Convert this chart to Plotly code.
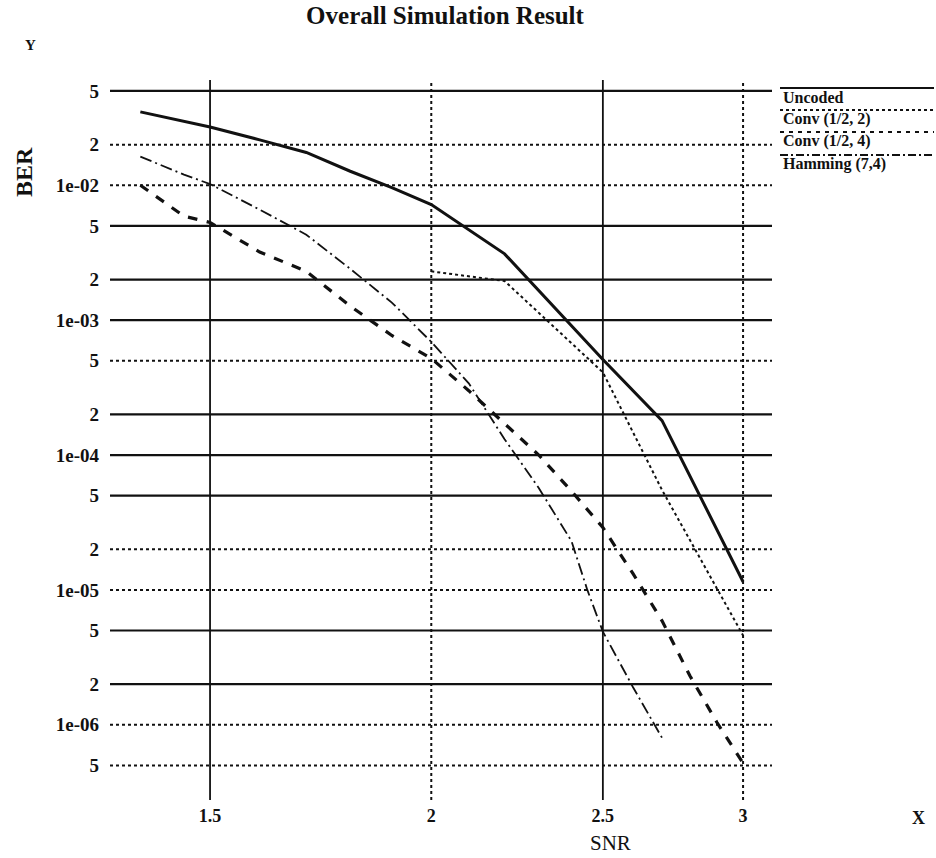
import math
import plotly.graph_objects as go

# ---------------- data ----------------
uncoded_x = [1.37, 1.5, 1.6, 1.7, 1.8, 1.9, 2.0, 2.2, 2.5, 2.7, 3.0]
uncoded_y = [3.5e-2, 2.7e-2, 2.17e-2, 1.75e-2, 1.27e-2, 9.6e-3, 7.2e-3, 3.1e-3, 5.1e-4, 1.8e-4, 1.15e-5]

conv2_x = [2.0, 2.2, 2.5, 2.7, 3.0]
conv2_y = [2.3e-3, 1.95e-3, 4.1e-4, 5.5e-5, 4.6e-6]

conv4_x = [1.37, 1.45, 1.5, 1.6, 1.7, 1.8, 1.9, 2.0, 2.1, 2.2, 2.3, 2.4, 2.5, 2.6, 2.7, 2.8, 2.9, 3.0]
conv4_y = [1.0e-2, 5.9e-3, 5.3e-3, 3.2e-3, 2.3e-3, 1.27e-3, 7.7e-4, 5.2e-4, 3.0e-4, 1.72e-4,
           1.0e-4, 5.4e-5, 2.9e-5, 1.32e-5, 5.9e-6, 2.3e-6, 1.04e-6, 5.2e-7]

hamming_x = [1.37, 1.45, 1.5, 1.6, 1.7, 1.8, 1.9, 2.0, 2.1, 2.2, 2.3, 2.4, 2.45, 2.5, 2.6, 2.7]
hamming_y = [1.63e-2, 1.2e-2, 1.02e-2, 6.6e-3, 4.3e-3, 2.4e-3, 1.35e-3, 6.9e-4, 3.4e-4, 1.31e-4,
             5.7e-5, 2.3e-5, 1.0e-5, 4.9e-6, 1.9e-6, 8.0e-7]

series_names = ["Uncoded", "Conv (1/2, 2)", "Conv (1/2, 4)", "Hamming (7,4)"]

x_tickvals = [1.5, 2.0, 2.5, 3.0]
x_ticktext = ["1.5", "2", "2.5", "3"]
x_grid_solid = [True, False, True, False]

y_tickvals = [5e-2, 2e-2, 1e-2, 5e-3, 2e-3, 1e-3, 5e-4, 2e-4, 1e-4, 5e-5, 2e-5, 1e-5, 5e-6, 2e-6, 1e-6, 5e-7]
y_ticktext = ["5", "2", "1e-02", "5", "2", "1e-03", "5", "2", "1e-04", "5", "2", "1e-05", "5", "2", "1e-06", "5"]
y_grid_solid = [True, False, False, True, True, True, False, True, True, True, False, False, True, True, False, False]

X_RANGE = [1.317, 3.115]
Y_RANGE = [2.77e-7, 6.03e-2]

# ---------------- figure ----------------
FONT = "Liberation Serif, Times New Roman, DejaVu Serif, serif"
INK = "#111111"

W, H = 936, 858
ML, MR, MT, MB = 110, 164, 80, 58
PW, PH = W - ML - MR, H - MT - MB


def px(xp):
    return (xp - ML) / PW


def py(yp):
    return (H - MB - yp) / PH


fig = go.Figure()

# grid lines (drawn as traces so they sit in data coordinates)
for v, solid in zip(y_tickvals, y_grid_solid):
    fig.add_trace(go.Scatter(x=X_RANGE, y=[v, v], mode="lines", hoverinfo="skip", showlegend=False,
                             line=dict(color=INK, width=2.2 if solid else 2, dash="solid" if solid else "dot")))
for v, solid in zip(x_tickvals, x_grid_solid):
    fig.add_trace(go.Scatter(x=[v, v], y=Y_RANGE, mode="lines", hoverinfo="skip", showlegend=False,
                             line=dict(color=INK, width=1.8 if solid else 2, dash="solid" if solid else "dot")))

styles = [
    dict(width=3, dash="solid"),
    dict(width=2, dash="dot"),
    dict(width=3.2, dash="dash"),
    dict(width=1.8, dash="12px,4px,2px,4px"),
]
data = [(uncoded_x, uncoded_y), (conv2_x, conv2_y), (conv4_x, conv4_y), (hamming_x, hamming_y)]
for (xs, ys), name, st in zip(data, series_names, styles):
    fig.add_trace(go.Scatter(x=xs, y=ys, mode="lines", name=name, showlegend=False,
                             line=dict(color=INK, **st)))

# custom xgraph-style legend: line above each label
legend_line_y = [88, 110, 132, 155]
legend_text_y = [97, 119, 141, 164]
legend_dash = ["solid", "dot", "4px,5px", "8px,3px,2px,3px"]
shapes = []
annotations = []
for name, st, dsh, ly, ty in zip(series_names, styles, legend_dash, legend_line_y, legend_text_y):
    shapes.append(dict(type="line", xref="paper", yref="paper", x0=px(780), x1=px(934), y0=py(ly), y1=py(ly),
                       line=dict(color=INK, width=2.2, dash=dsh)))
    annotations.append(dict(text="<b>%s</b>" % name, xref="paper", yref="paper", x=px(781), y=py(ty),
                            xanchor="left", yanchor="middle", showarrow=False,
                            font=dict(family=FONT, size=16, color=INK)))

annotations += [
    dict(text="<b>BER</b>", xref="paper", yref="paper", x=px(24), y=py(172), textangle=-90, showarrow=False,
         xanchor="center", yanchor="middle", font=dict(family=FONT, size=24, color=INK)),
    dict(text="<b>Y</b>", xref="paper", yref="paper", x=px(30), y=py(45), showarrow=False,
         xanchor="center", yanchor="middle", font=dict(family=FONT, size=15, color=INK)),
    dict(text="SNR", xref="paper", yref="paper", x=px(610), y=py(843), showarrow=False,
         xanchor="center", yanchor="middle", font=dict(family=FONT, size=21, color=INK)),
    dict(text="<b>X</b>", xref="paper", yref="paper", x=px(918), y=py(818), showarrow=False,
         xanchor="center", yanchor="middle", font=dict(family=FONT, size=18, color=INK)),
]

fig.update_layout(
    width=W, height=H,
    margin=dict(l=ML, r=MR, t=MT, b=MB),
    paper_bgcolor="white", plot_bgcolor="white",
    title=dict(text="<b>Overall Simulation Result</b>", x=445 / W, y=1 - 15 / H, xanchor="center",
               yanchor="middle", font=dict(family=FONT, size=25, color=INK)),
    shapes=shapes,
    annotations=annotations,
    showlegend=False,
)
fig.update_xaxes(type="log", range=[math.log10(X_RANGE[0]), math.log10(X_RANGE[1])],
                 tickvals=x_tickvals, ticktext=["<b>%s</b>" % t for t in x_ticktext],
                 showgrid=False, zeroline=False, showline=False, ticks="", ticklabelstandoff=3,
                 tickfont=dict(family=FONT, size=18, color=INK))
fig.update_yaxes(type="log", range=[math.log10(Y_RANGE[0]), math.log10(Y_RANGE[1])],
                 tickvals=y_tickvals, ticktext=["<b>%s</b>" % t for t in y_ticktext],
                 showgrid=False, zeroline=False, showline=False, ticks="", ticklabelstandoff=10,
                 tickfont=dict(family=FONT, size=19, color=INK))

fig.write_html("out.html")
